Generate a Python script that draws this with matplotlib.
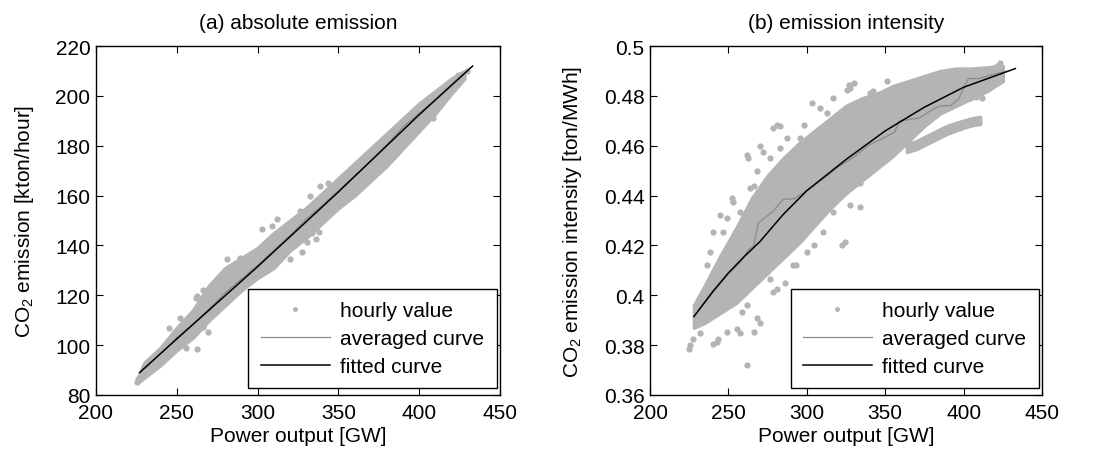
import matplotlib
matplotlib.use("Agg")
import matplotlib.pyplot as plt

plt.rcParams['font.family'] = ['Liberation Sans', 'DejaVu Sans']
plt.rcParams['mathtext.default'] = 'regular'
plt.rcParams['font.size'] = 15

# ---- (a) absolute emission: dense cloud envelope
xa_core = [226, 230, 240, 250, 260, 270, 280, 290, 300, 310, 320, 330, 340, 350, 360, 370, 380, 390, 400, 410, 420, 428]
ya_hi = [87, 93, 99, 107, 114, 124, 131, 135, 139, 145, 150, 155, 161, 167, 173, 179, 185, 191, 197, 202, 207, 210]
ya_lo = [85, 87, 92, 98, 103, 110, 116, 122, 127, 131, 138, 143, 149, 155, 160, 166, 172, 179, 186, 193, 201, 207]
# scattered hourly values outside the core
xa_pts = [225.2, 226.2, 252, 262, 262.3, 269.5, 266.4, 262.3, 272.6, 248, 245, 256, 266, 289, 285, 280.9,
          303, 308.7, 311.8, 318, 326, 332.4, 338.6, 343.8, 320, 327.3, 330.4, 333.5, 336, 338,
          392.2, 398.4, 404.6, 409.8, 396.4, 402.6, 408.7, 429.4, 424, 418]
ya_pts = [85.1, 86.4, 111, 119, 98.4, 105.1, 107.1, 119.8, 123.8, 104, 107, 99, 122, 135, 131.8, 134.5,
          146.5, 147.9, 150.5, 148, 153.9, 159.9, 163.9, 165.2, 134.5, 137.2, 141.2, 145.2, 142.7, 145.3,
          187.9, 190.6, 192.6, 193.9, 186.6, 189.0, 191.3, 210, 208.5, 204]
# curves
xa_avg = [228, 240, 250, 260, 270, 280, 290, 300, 310, 320, 330, 340, 350, 360, 370, 380, 390, 400, 410, 420, 428]
ya_avg = [89.5, 96.5, 103, 108.5, 114.5, 121, 126.5, 132, 138, 144, 150.5, 156, 162, 168, 174, 180.5, 187.5, 193, 198.5, 204.5, 209]
xa_fit = [227, 250, 275, 300, 325, 350, 375, 400, 433]
ya_fit = [89, 102.5, 117, 131.5, 146.5, 161.5, 177, 192.5, 212]

# ---- (b) emission intensity
xb_core = [228, 235, 245, 255, 265, 275, 285, 295, 305, 315, 325, 335, 345, 355, 365, 375, 385, 395, 405, 415, 425]
yb_hi = [0.396, 0.404, 0.416, 0.427, 0.439, 0.448, 0.455, 0.461, 0.466, 0.471, 0.476, 0.479, 0.481, 0.484, 0.486, 0.488, 0.490, 0.491, 0.491, 0.4915, 0.492]
yb_lo = [0.387, 0.389, 0.393, 0.397, 0.403, 0.409, 0.415, 0.421, 0.428, 0.435, 0.441, 0.446, 0.451, 0.456, 0.462, 0.468, 0.473, 0.476, 0.479, 0.482, 0.486]
xb_strand = [363.8, 370.2, 376.6, 383, 389.4, 395.7, 402.1, 406.4, 410.6]
yb_strand_hi = [0.4605, 0.4620, 0.4640, 0.4660, 0.4680, 0.4693, 0.4705, 0.4712, 0.4716]
yb_strand_lo = [0.4575, 0.4588, 0.4608, 0.4628, 0.4648, 0.4663, 0.4677, 0.4684, 0.4688]
xb_pts = [225.1, 225.5, 227.2, 261.7, 257.4, 252.1, 253.2, 262.1, 262.8, 263.8, 270.2, 271.9, 278.7, 280.9, 283,
          287.2, 297.9, 303.2, 308.5, 312.8, 319, 326.6, 327.7, 325.5, 329.8, 342.5, 344.7, 340.4, 317, 322.3,
          351, 322.3, 324.5, 327.7, 334, 317, 310.6, 300, 304.3, 291.5, 281.3, 278.7, 270.2, 268.1, 266,
          255.3, 257.4, 248.9, 242.6, 240.4, 243.6, 258.5, 261.7, 274.5, 276.6, 244.7, 240.4, 238.3, 236.2,
          246.8, 248.9, 257.4, 266, 268.1, 276.6, 283, 291.5, 295.7, 404, 408, 412, 395.7, 400, 423.4, 421.3,
          419, 334, 232, 236, 250, 230, 286, 293, 300, 348, 356]
yb_pts = [0.3785, 0.380, 0.3825, 0.3722, 0.4175, 0.439, 0.4376, 0.4564, 0.455, 0.443, 0.460, 0.4577, 0.467, 0.4685, 0.4678,
          0.463, 0.4685, 0.477, 0.475, 0.473, 0.4604, 0.4846, 0.4832, 0.4826, 0.4852, 0.4819, 0.4805, 0.4812, 0.479, 0.4725,
          0.486, 0.4201, 0.4215, 0.4362, 0.445, 0.4336, 0.4255, 0.4175, 0.420, 0.412, 0.4027, 0.4013, 0.389, 0.391, 0.3852,
          0.3866, 0.385, 0.3852, 0.3812, 0.3805, 0.3825, 0.3933, 0.396, 0.4094, 0.4067, 0.4322, 0.4255, 0.4175, 0.412,
          0.4255, 0.431, 0.4336, 0.444, 0.4497, 0.455, 0.459, 0.4577, 0.463, 0.4792, 0.4795, 0.4790, 0.4785, 0.4795, 0.4933, 0.492,
          0.4913, 0.4356, 0.385, 0.396, 0.404, 0.392, 0.405, 0.412, 0.452, 0.476, 0.480]
xb_avg = [228, 240, 250, 258, 263, 266, 269, 278, 285, 292, 300, 310, 320, 330, 340, 350, 356, 359, 365, 372,
          380, 385, 392, 397, 403, 410, 418, 428]
yb_avg = [0.3915, 0.401, 0.4085, 0.4135, 0.4185, 0.4195, 0.429, 0.4335, 0.4385, 0.4388, 0.442, 0.4465, 0.4515, 0.4555,
          0.4605, 0.4635, 0.4655, 0.470, 0.4705, 0.4712, 0.4745, 0.476, 0.4762, 0.479, 0.487, 0.487, 0.4885, 0.490]
xb_fit = [228, 240, 250, 260, 270, 285, 300, 325, 350, 375, 400, 433]
yb_fit = [0.3915, 0.4015, 0.409, 0.4155, 0.4215, 0.4325, 0.442, 0.4545, 0.466, 0.4755, 0.4835, 0.491]

dot = '#b4b4b4'
avg_c = '#8a8a8a'

fig = plt.figure(figsize=(10.98, 4.56), dpi=100)
ax1 = fig.add_axes([0.0874, 0.1316, 0.368, 0.765])
ax2 = fig.add_axes([0.592, 0.1316, 0.357, 0.765])


def panel(ax, xc, lo, hi, xp, yp, xav, yav, xf, yf):
    ax.fill_between(xc, lo, hi, color=dot, lw=2.5, ec=dot, zorder=1)
    ax.plot(xp, yp, 'o', color=dot, ms=4.5, mec='none', zorder=1, label='hourly value')
    ax.plot(xav, yav, color=avg_c, lw=0.9, zorder=2, label='averaged curve')
    ax.plot(xf, yf, color='black', lw=1.1, zorder=3, label='fitted curve')
    ax.set_xlim(200, 450)
    ax.set_xticks([200, 250, 300, 350, 400, 450])
    ax.tick_params(direction='in', top=True, right=True, length=5, width=0.8, labelsize=15, pad=4)
    ax.tick_params(axis='x', pad=6)
    for s in ax.spines.values():
        s.set_linewidth(1.0)
    ax.set_xlabel('Power output [GW]', fontsize=15, labelpad=3)
    leg = ax.legend(loc='lower right', bbox_to_anchor=(0.9915, 0.019), borderaxespad=0,
                    fancybox=False, edgecolor='black', framealpha=1, handlelength=3.3,
                    handletextpad=0.5, labelspacing=0.42, borderpad=0.6, fontsize=15,
                    numpoints=1, markerscale=0.8)
    leg.get_frame().set_linewidth(1.0)


panel(ax1, xa_core, ya_lo, ya_hi, xa_pts, ya_pts, xa_avg, ya_avg, xa_fit, ya_fit)
ax1.set_ylim(80, 220)
ax1.set_yticks(range(80, 221, 20))
ax1.set_ylabel('CO$_2$ emission [kton/hour]', fontsize=15, labelpad=14)
ax1.set_title('(a) absolute emission', fontsize=15, pad=13)

ax2.fill_between(xb_strand, yb_strand_lo, yb_strand_hi, color=dot, lw=2.5, ec=dot, zorder=1)
panel(ax2, xb_core, yb_lo, yb_hi, xb_pts, yb_pts, xb_avg, yb_avg, xb_fit, yb_fit)
ax2.set_ylim(0.36, 0.5)
ax2.set_yticks([0.36, 0.38, 0.4, 0.42, 0.44, 0.46, 0.48, 0.5])
ax2.set_yticklabels(['0.36', '0.38', '0.4', '0.42', '0.44', '0.46', '0.48', '0.5'])
ax2.set_ylabel('CO$_2$ emission intensity [ton/MWh]', fontsize=15, labelpad=14)
ax2.set_title('(b) emission intensity', fontsize=15, pad=13)

fig.savefig('out.png', dpi=100)
